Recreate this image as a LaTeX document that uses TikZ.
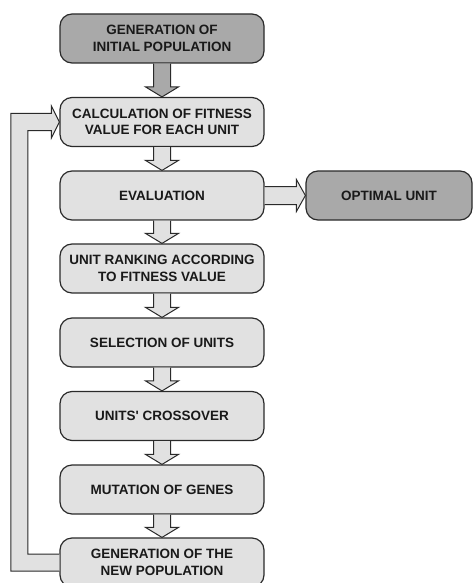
\documentclass[tikz,border=0pt]{standalone}
\usepackage{fontspec}
\setmainfont{Liberation Sans}
\usetikzlibrary{calc}
\definecolor{lightbox}{HTML}{E1E1E1}
\definecolor{darkbox}{HTML}{A9A9A9}
\definecolor{edge}{HTML}{2A2A2A}
\tikzset{
  box/.style={draw=edge, line width=1.2pt, rounded corners=12pt, fill=lightbox,
    minimum width=204pt, minimum height=49pt, inner sep=0pt, align=center,
    font=\fontsize{13.5}{16.5}\selectfont\bfseries, text=black!90},
  darkbx/.style={box, fill=darkbox},
  fatarrow/.style={draw=edge, line width=1pt, fill=lightbox, line join=miter},
  fatarrowdark/.style={fatarrow, fill=darkbox}
}
\newcommand\fatdown[3]{%
  \draw[#3] ($(#1.south)+(-8.5,0)$) -- ($(#2.north)+(-8.5,-10)$) -- ($(#2.north)+(-16.5,-10)$)
    -- (#2.north) -- ($(#2.north)+(16.5,-10)$) -- ($(#2.north)+(8.5,-10)$)
    -- ($(#1.south)+(8.5,0)$);}
\begin{document}
\begin{tikzpicture}[x=1pt,y=-1pt]
\useasboundingbox (0,0) rectangle (473,583);
\node[darkbx] (b1) at (162,38.5) {GENERATION OF\\INITIAL POPULATION};
\node[box] (b2) at (162,122) {CALCULATION OF FITNESS\\VALUE FOR EACH UNIT};
\node[box] (b3) at (162,195.5) {EVALUATION};
\node[darkbx, minimum width=166pt] (opt) at (389,195.5) {OPTIMAL UNIT};
\node[box] (b4) at (162,268.5) {UNIT RANKING ACCORDING\\TO FITNESS VALUE};
\node[box] (b5) at (162,342.5) {SELECTION OF UNITS};
\node[box] (b6) at (162,416) {UNITS\textquotesingle{} CROSSOVER};
\node[box] (b7) at (162,489.5) {MUTATION OF GENES};
\node[box] (b8) at (162,562.5) {GENERATION OF THE\\NEW POPULATION};

\fatdown{b1}{b2}{fatarrowdark}
\fatdown{b2}{b3}{fatarrow}
\fatdown{b3}{b4}{fatarrow}
\fatdown{b4}{b5}{fatarrow}
\fatdown{b5}{b6}{fatarrow}
\fatdown{b6}{b7}{fatarrow}
\fatdown{b7}{b8}{fatarrow}

% right arrow to optimal unit
\draw[fatarrow] ($(b3.east)+(0,-9)$) -- ($(opt.west)+(-9,-9)$) -- ($(opt.west)+(-9,-16)$)
  -- (opt.west) -- ($(opt.west)+(-9,16)$) -- ($(opt.west)+(-9,9)$) -- ($(b3.east)+(0,9)$);

% feedback arrow
\draw[fatarrow] ($(b8.west)+(0,8.5)$) -- ($(b8.west)+(-48.5,8.5)$)
  |- ($(b2.west)+(-8,-8.5)$) -- ($(b2.west)+(-8,-16)$) -- (b2.west)
  -- ($(b2.west)+(-8,16)$) -- ($(b2.west)+(-8,8.5)$) -- ($(b2.west)+(-31.5,8.5)$)
  |- ($(b8.west)+(0,-8.5)$);
\end{tikzpicture}
\end{document}
